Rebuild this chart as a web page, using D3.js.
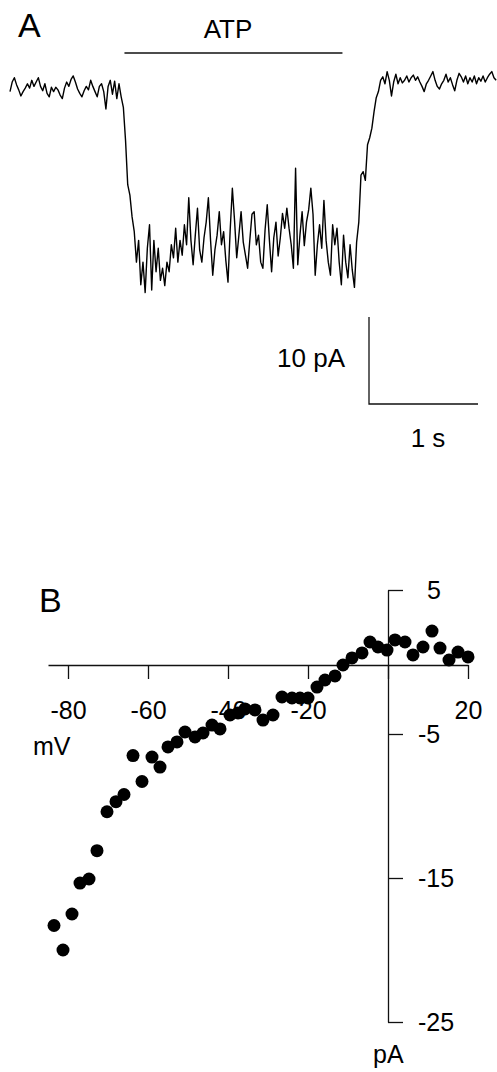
<!DOCTYPE html>
<html>
<head>
<meta charset="utf-8">
<script src="https://cdn.jsdelivr.net/npm/d3@7"></script>
<style>
  html, body { margin: 0; padding: 0; background: #fff; }
  svg { display: block; }
  text { font-family: "Liberation Sans", Arial, sans-serif; fill: #000; }
</style>
</head>
<body>
<svg id="chart" width="497" height="1072"></svg>
<script>
// ---------- Panel A: whole-cell current trace (pA), sampled every 0.02 s ----------
const traceDt = 0.02; // s per sample
const traceCurrent = [
  -0.3, 0.8, 1.3, 0.5, -0.1, -0.8, -0.3, 0.1, 0.6, 0.1,
  1.0, 0.3, 0.8, 1.3, 0.3, -0.2, 0.6, -0.5, -0.9, 0.2,
  -0.3, 0.2, -0.1, -0.7, -1.1, 0.1, 0.8, 0.3, 1.1, 1.5,
  0.8, 0.0, -0.5, -0.9, -0.2, 0.3, -0.1, 1.0, 0.3, -0.3,
  -0.9, 0.3, 0.6, -0.3, -2.3, 0.3, 1.0, -0.6, 0.9, -1.1,
  0.6, -0.9, -2.1, -5.9, -11.0, -12.2, -14.7, -16.4, -19.9, -17.4,
  -22.5, -19.9, -23.4, -18.3, -15.6, -23.1, -17.4, -21.0, -18.3, -22.0,
  -20.6, -22.6, -19.9, -21.0, -17.9, -19.4, -16.0, -19.9, -17.4, -19.1,
  -15.6, -17.9, -12.5, -17.4, -20.2, -16.8, -13.7, -18.5, -19.9, -17.1,
  -15.3, -12.5, -17.4, -21.4, -18.5, -16.8, -14.1, -17.9, -16.4, -19.7,
  -22.2, -16.2, -11.4, -15.1, -19.4, -16.8, -14.1, -17.6, -19.1, -20.6,
  -17.4, -14.4, -14.1, -17.9, -16.8, -19.9, -20.6, -16.2, -13.3, -17.4,
  -21.0, -17.1, -15.3, -19.2, -17.1, -14.3, -16.0, -13.7, -16.0, -17.9,
  -20.6, -9.1, -20.2, -16.8, -14.1, -18.0, -15.3, -13.9, -11.4, -14.4,
  -21.4, -17.9, -15.6, -18.3, -12.8, -17.4, -19.9, -21.4, -15.6, -17.9,
  -16.0, -19.9, -22.5, -16.8, -19.9, -21.7, -17.9, -20.8, -22.8, -17.6,
  -15.3, -9.9, -9.5, -10.5, -6.4, -5.6, -4.5, -2.6, -1.0, -0.3,
  1.0, 1.4, 0.6, 2.0, 1.0, -0.8, 0.8, 1.7, 0.6, 1.3,
  0.7, 1.0, 1.5, 0.8, 1.3, 1.6, 1.0, 1.4, 0.8, 0.3,
  -0.3, 0.6, 1.0, 1.5, 2.0, 1.0, 0.3, 0.0, 0.6, 1.0,
  1.7, 0.8, 1.3, 0.5, -0.2, 1.0, 1.8, 1.4, 0.8, 1.5,
  0.6, 1.3, 0.8, 1.5, 0.6, 1.3, 0.9, 1.5, 0.8, 1.3,
  1.7, 2.0, 1.3, 1.0
];
const atpWindow = [1.05, 3.05];       // s, ATP application bar
const scaleBarTime = 1;               // s
const scaleBarCurrent = 10;           // pA
const scaleBarLabels = ["10 pA", "1 s"];

// ---------- Panel B: I-V relation ----------
const ivVoltage = [
  -83.5, -81.25, -79, -77, -74.75, -72.75, -70.25, -68, -66, -63.75,
  -61.5, -59, -57, -55, -52.75, -50.75, -48.25, -46.25, -44, -42,
  -39.5, -37.5, -35.75, -33.25, -31.25, -28.75, -26.5, -24, -22, -20,
  -17.75, -15.75, -13.25, -11.25, -9, -6.5, -4.5, -2.5, -0.25, 1.75,
  4.25, 6.25, 8.75, 11, 13, 15.25, 17.5, 20
];
const ivCurrent = [
  -18.3, -20.0, -17.5, -15.35, -15.07, -13.1, -10.4, -9.7, -9.2, -6.5,
  -8.3, -6.6, -7.3, -5.9, -5.55, -4.86, -5.2, -4.93, -4.38, -4.65,
  -3.68, -3.54, -3.26, -3.33, -4.03, -3.68, -2.43, -2.5, -2.5, -2.5,
  -1.74, -1.25, -0.97, -0.21, 0.28, 0.63, 1.39, 1.04, 0.83, 1.53,
  1.39, 0.49, 1.04, 2.15, 0.97, 0.14, 0.69, 0.35
];
const xTickValues = [-80, -60, -40, -20, 0, 20];
const yTickValues = [5, -5, -15, -25];
const xAxisLabel = "mV";
const yAxisLabel = "pA";

// ---------- drawing ----------
const svg = d3.select("#chart");
const ink = "#111";
const labelSize = "25px";

// Panel A scales
const tA = d3.scaleLinear().domain([0, 1]).range([10, 119]);
const iA = d3.scaleLinear().domain([0, 10]).range([89, 2]);

svg.append("text").attr("x", 18).attr("y", 37).style("font-size", "34px").text("A");

svg.append("line")
  .attr("x1", tA(atpWindow[0])).attr("x2", tA(atpWindow[1]))
  .attr("y1", 53).attr("y2", 53)
  .attr("stroke", ink).attr("stroke-width", 1.3);
svg.append("text")
  .attr("x", 228).attr("y", 38)
  .attr("text-anchor", "middle").style("font-size", "26px").text("ATP");

const traceLine = d3.line()
  .x((d, i) => tA(i * traceDt))
  .y(d => iA(d));
svg.append("path")
  .datum(traceCurrent)
  .attr("d", traceLine)
  .attr("fill", "none")
  .attr("stroke", "#000")
  .attr("stroke-width", 1.4)
  .attr("stroke-linejoin", "round");

// scale bar
const sbX = 369, sbY = 404;
const sbW = tA(scaleBarTime) - tA(0);
const sbH = iA(0) - iA(scaleBarCurrent);
svg.append("path")
  .attr("d", `M${sbX},${sbY - sbH}V${sbY}H${sbX + sbW}`)
  .attr("fill", "none").attr("stroke", ink).attr("stroke-width", 1.3);
svg.append("text").attr("x", 345).attr("y", 367).attr("text-anchor", "end")
  .style("font-size", "26px").text(scaleBarLabels[0]);
svg.append("text").attr("x", 428).attr("y", 447).attr("text-anchor", "middle")
  .style("font-size", "26px").text(scaleBarLabels[1]);

// Panel B
svg.append("text").attr("x", 39).attr("y", 612).style("font-size", "34px").text("B");

const xB = d3.scaleLinear().domain([-85, 20]).range([48, 468]);
const yB = d3.scaleLinear().domain([5, -25]).range([590, 1022]);
const axisY0 = yB(0) + 3;

const gx = svg.append("g").attr("transform", `translate(0,${axisY0})`)
  .call(d3.axisBottom(xB).tickValues(xTickValues).tickSize(14).tickSizeOuter(0).tickPadding(22));
gx.select(".domain").attr("stroke", ink).attr("stroke-width", 1.3);
gx.selectAll(".tick line").attr("stroke", ink).attr("stroke-width", 1.3);
gx.selectAll(".tick text").attr("font-family", null).style("font-size", labelSize).attr("fill", "#000")
  .attr("dy", "0.72em")
  .text(d => d === 0 ? "" : (d < 0 ? "-" + Math.abs(d) : String(d)));

const gy = svg.append("g").attr("transform", `translate(${xB(0)},0)`)
  .call(d3.axisRight(yB).tickValues(yTickValues).tickSize(15).tickSizeOuter(0).tickPadding(15));
gy.select(".domain").attr("stroke", ink).attr("stroke-width", 1.3);
gy.selectAll(".tick line").attr("stroke", ink).attr("stroke-width", 1.3);
gy.selectAll(".tick text").attr("font-family", null).style("font-size", labelSize).attr("fill", "#000")
  .attr("dx", d => d >= 0 ? 9 : 0)
  .text(d => d < 0 ? "-" + Math.abs(d) : String(d));

svg.append("text").attr("x", 33).attr("y", 755).style("font-size", labelSize).text(xAxisLabel);
svg.append("text").attr("x", 373).attr("y", 1063).style("font-size", labelSize).text(yAxisLabel);

svg.append("g").selectAll("circle")
  .data(ivVoltage.map((v, i) => [v, ivCurrent[i]]))
  .join("circle")
  .attr("cx", d => xB(d[0]))
  .attr("cy", d => yB(d[1]))
  .attr("r", 6.5)
  .attr("fill", "#000");
</script>
</body>
</html>
